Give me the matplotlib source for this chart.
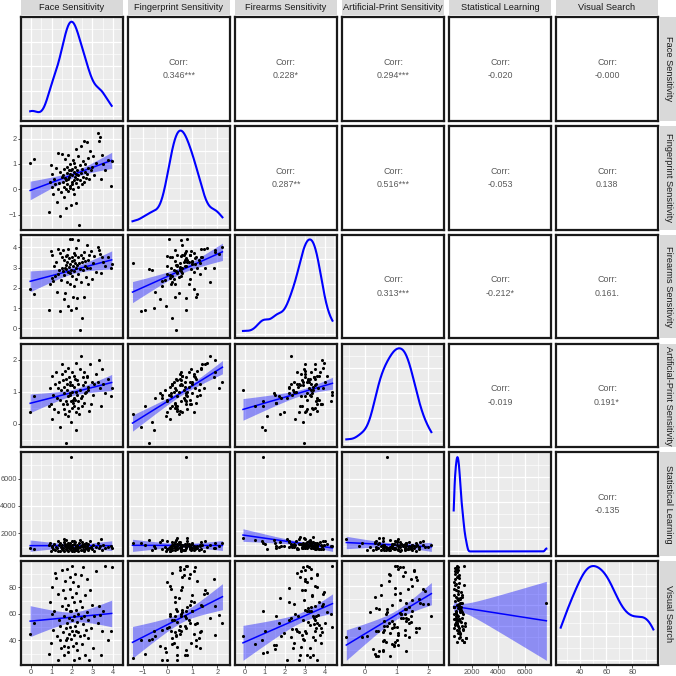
import numpy as np
import matplotlib.pyplot as plt

plt.rcParams["font.family"] = ["Liberation Sans", "DejaVu Sans"]

# variable names (strip labels)
names = ["Face Sensitivity", "Fingerprint Sensitivity", "Firearms Sensitivity",
         "Artificial-Print Sensitivity", "Statistical Learning", "Visual Search"]

# participant scores, estimated from the scatter panels
face = [-0.05, 0.15, 0.85, 0.9, 0.95, 1.0, 1.0, 1.05, 1.1, 1.15,
        1.2, 1.25, 1.3, 1.3, 1.35, 1.4, 1.4, 1.45, 1.5, 1.5,
        1.55, 1.55, 1.6, 1.6, 1.62, 1.65, 1.68, 1.7, 1.7, 1.72,
        1.75, 1.75, 1.78, 1.8, 1.8, 1.82, 1.85, 1.85, 1.88, 1.9,
        1.9, 1.92, 1.95, 1.95, 1.98, 2.0, 2.0, 2.02, 2.05, 2.05,
        2.08, 2.1, 2.1, 2.12, 2.15, 2.15, 2.18, 2.2, 2.2, 2.22,
        2.25, 2.25, 2.28, 2.3, 2.32, 2.35, 2.38, 2.4, 2.42, 2.45,
        2.48, 2.5, 2.52, 2.55, 2.58, 2.6, 2.62, 2.65, 2.7, 2.72,
        2.75, 2.78, 2.8, 2.85, 2.9, 2.95, 3.0, 3.05, 3.1, 3.2,
        3.3, 3.35, 3.4, 3.42, 3.45, 3.5, 3.6, 3.75, 3.9, 3.95]

fingerprint = [1.05, 1.2, -0.9, 0.3, 0.95, 0.1, 0.6, -0.2, 0.4, 0.2,
               0.85, -0.5, 1.45, 0.0, 0.25, -1.05, 0.7, -0.1, 0.5, 1.4,
               0.3, 0.55, -0.3, 0.8, 0.1, 1.2, 0.45, 0.0, -0.75, 0.35,
               0.65, 0.9, 0.2, 1.35, 0.4, -0.05, 0.75, 0.5, 0.15, 0.6,
               0.05, 1.0, 0.75, -0.6, 0.3, 0.8, 0.55, 0.2, 1.15, 0.0,
               0.7, 0.35, -0.2, 1.05, 0.5, 0.9, 0.25, 0.6, -0.55, 1.6,
               0.4, 0.75, 0.1, 1.3, 0.55, -1.4, 0.95, 0.35, 0.65, 1.7,
               0.8, 0.2, 1.1, 0.5, 1.9, 0.3, 0.7, 1.0, 0.45, 1.85,
               0.6, 1.25, 0.85, 0.4, 1.5, 0.75, 0.9, 1.3, 0.55, 1.05,
               2.2, 1.9, 2.05, 0.4, 1.35, 1.0, 0.75, 1.15, 0.15, 1.1]

firearms = [1.95, 1.7, 0.9, 2.2, 3.8, 2.5, 3.6, 2.35, 3.1, 2.6,
            3.3, 1.8, 3.9, 2.7, 2.9, 0.85, 3.7, 2.4, 3.0, 3.5,
            3.85, 2.85, 1.45, 3.4, 2.65, 3.0, 1.75, 3.55, 2.95, 3.15,
            3.3, 3.6, 2.3, 3.9, 2.8, 1.1, 3.45, 3.05, 2.2, 2.75,
            4.4, 3.2, 0.9, 2.9, 3.35, 4.4, 2.6, 3.5, 1.55, 3.1,
            3.4, 2.85, 2.1, 3.7, 3.25, 3.6, 2.45, 3.0, 1.0, 3.95,
            3.15, 1.5, 3.5, 2.7, 4.35, 3.25, 2.95, -0.1, 3.6, 2.3,
            3.3, 0.5, 3.45, 2.9, 3.75, 1.55, 3.1, 3.35, 2.55, 3.0,
            4.1, 3.4, 2.2, 3.6, 3.0, 3.8, 2.45, 3.25, 3.55, 2.8,
            4.0, 3.85, 3.65, 2.75, 3.5, 3.3, 3.1, 3.5, 3.0, 3.2]

artificial = [0.35, 0.85, 0.55, 1.1, 0.6, 0.15, 1.5, 0.9, 0.45, 1.25,
              1.6, 0.8, 1.1, 0.35, 1.3, -0.1, 0.75, 1.05, 1.55, 1.85,
              0.6, 1.35, 0.95, 0.45, 1.15, 1.65, 0.3, 0.7, -0.6, 1.4,
              1.05, 0.6, 1.25, 1.75, 0.85, 0.25, 1.45, 0.4, 0.95, 1.2,
              0.9, 1.3, 0.7, 0.05, 0.5, 1.0, 1.6, 1.2, 0.65, 0.75,
              1.15, 0.55, 0.8, 1.5, 1.4, 0.75, 1.0, 0.35, -0.2, 1.9,
              1.35, 0.9, 0.5, 1.25, 0.7, 0.3, 1.7, 1.05, 0.8, 2.1,
              0.85, 0.55, 1.45, 1.2, 1.6, 0.65, 1.3, 0.95, 1.0, 1.45,
              1.5, 1.05, 1.15, 0.4, 1.85, 0.6, 1.3, 0.9, 1.25, 1.55,
              1.3, 2.0, 1.1, 0.55, 1.7, 1.25, 0.95, 1.4, 0.85, 1.1]

stat_learning = [900, 850, 1100, 1300, 700, 950, 1050, 800, 1200, 750,
                 1000, 900, 650, 1400, 1150, 1250, 700, 980, 850, 1100,
                 920, 780, 1350, 1600, 680, 1050, 1200, 830, 1500, 960,
                 740, 1100, 880, 1300, 1020, 690, 950, 1150, 800, 1080,
                 870, 1250, 7600, 720, 990, 1400, 660, 1100, 930, 780,
                 1180, 840, 1450, 700, 1320, 890, 1060, 760, 1030, 950,
                 820, 1120, 690, 1010, 870, 1280, 940, 1500, 730, 1070,
                 1160, 1350, 790, 980, 1220, 710, 1040, 860, 1300, 920,
                 1080, 750, 1190, 880, 1400, 960, 820, 1130, 700, 1010,
                 1250, 900, 1050, 1600, 780, 1150, 870, 980, 1050, 930]

visual_search = [45, 53, 30, 69, 38, 60, 80, 48, 62, 91,
                 87, 43, 75, 25, 55, 40, 51, 34, 93, 66,
                 46, 78, 36, 29, 58, 85, 72, 49, 40, 64,
                 94, 53, 42, 67, 35, 31, 57, 45, 79, 88,
                 50, 62, 62, 41, 73, 96, 47, 55, 36, 84,
                 58, 44, 25, 69, 51, 90, 38, 63, 47, 76,
                 54, 33, 81, 46, 60, 27, 70, 43, 89, 57,
                 65, 37, 52, 95, 44, 58, 29, 74, 48, 86,
                 61, 42, 55, 25, 78, 49, 67, 34, 58, 92,
                 53, 66, 59, 29, 47, 62, 96, 40, 47, 95]

# printed correlations for the upper triangle, row by row
corr_labels = ["0.346***", "0.228*", "0.294***", "-0.020", "-0.000",
               "0.287**", "0.516***", "-0.053", "0.138",
               "0.313***", "-0.212*", "0.161.",
               "-0.019", "0.191*",
               "-0.135"]

ticks = [[0, 1, 2, 3, 4], [-1, 0, 1, 2], [0, 1, 2, 3, 4], [0, 1, 2],
         [2000, 4000, 6000], [40, 60, 80]]

data = [np.array(v, dtype=float) for v in
        [face, fingerprint, firearms, artificial, stat_learning, visual_search]]
n = len(names)

BG = "#EBEBEB"
STRIP = "#D9D9D9"


def kde(x):
    # gaussian density with R's bw.nrd0
    sd = x.std(ddof=1)
    iqr = np.subtract(*np.percentile(x, [75, 25]))
    bw = 0.9 * min(sd, iqr / 1.34) * len(x) ** -0.2
    g = np.linspace(x.min(), x.max(), 512)
    d = np.exp(-0.5 * ((g[:, None] - x[None, :]) / bw) ** 2).sum(1)
    d /= len(x) * bw * np.sqrt(2 * np.pi)
    return g, d


def lm_band(x, y):
    b, a = np.polyfit(x, y, 1)
    g = np.linspace(x.min(), x.max(), 80)
    fit = a + b * g
    res = y - (a + b * x)
    s = np.sqrt((res ** 2).sum() / (len(x) - 2))
    se = s * np.sqrt(1 / len(x) + (g - x.mean()) ** 2 / ((x - x.mean()) ** 2).sum())
    return g, fit, fit - 1.984 * se, fit + 1.984 * se


fig = plt.figure(figsize=(6.76, 6.76), dpi=100)
gs = fig.add_gridspec(n, n, left=21 / 676, right=658 / 676, top=1 - 17 / 676,
                      bottom=1 - 665 / 676, wspace=0.05, hspace=0.05)

k = 0
for i in range(n):
    for j in range(n):
        ax = fig.add_subplot(gs[i, j])
        if j > i:
            # correlation text panel
            ax.set_facecolor("white")
            ax.text(0.5, 0.5, "Corr:\n" + corr_labels[k], ha="center", va="center",
                    fontsize=6.4, color="#595959", linespacing=1.6,
                    transform=ax.transAxes)
            k += 1
            ax.set_xticks([])
            ax.set_yticks([])
        else:
            ax.set_facecolor(BG)
            x = data[j]
            if i == j:
                g, d = kde(x)
                ax.plot(g, d, color="blue", lw=1.5)
                ax.set_ylim(-0.05 * d.max(), d.max() * 1.05)
                ax.margins(x=0.05)
            else:
                y = data[i]
                g, fit, lo, hi = lm_band(x, y)
                ax.fill_between(g, lo, hi, color="blue", alpha=0.4, lw=0)
                ax.plot(g, fit, color="blue", lw=1.1)
                ax.scatter(x, y, s=5, color="black", lw=0, zorder=3)
                ax.margins(0.05)
            ax.set_xticks(ticks[j])
            if i != j:
                ax.set_yticks(ticks[i])
            # minor grid midway between majors
            xt = ticks[j]
            step = xt[1] - xt[0]
            ax.set_xticks(np.arange(xt[0] - step / 2, xt[-1] + step, step), minor=True)
            if i != j:
                yt = ticks[i]
                ys = yt[1] - yt[0]
                ax.set_yticks(np.arange(yt[0] - ys / 2, yt[-1] + ys, ys), minor=True)
            else:
                top = ax.get_ylim()[1]
                ax.set_yticks(np.linspace(0, top, 5))
                ax.set_yticks(np.linspace(top / 8, top * 7 / 8, 4), minor=True)
            ax.grid(True, which="major", color="white", lw=0.9)
            ax.grid(True, which="minor", color="white", lw=0.45)
            ax.set_axisbelow(True)
            ax.tick_params(which="minor", length=0)
            ax.tick_params(which="major", length=2, width=0.6, color="#333333",
                           labelsize=5.3, labelcolor="#4D4D4D", pad=1)
            if i != n - 1:
                ax.tick_params(axis="x", which="major", length=0, labelbottom=False)
            if j != 0 or i == j:
                ax.tick_params(axis="y", which="major", length=0, labelleft=False)
        for sp in ax.spines.values():
            sp.set_linewidth(1.6)
            sp.set_color("#1A1A1A")

        pos = ax.get_position()
        if i == 0:
            sax = fig.add_axes([pos.x0, 1 - 15 / 676, pos.width, 15 / 676])
            sax.set_facecolor(STRIP)
            sax.set_xticks([])
            sax.set_yticks([])
            for sp in sax.spines.values():
                sp.set_visible(False)
            sax.text(0.5, 0.5, names[j], ha="center", va="center", fontsize=6.7,
                     color="#1A1A1A")
        if j == n - 1:
            sax = fig.add_axes([660 / 676, pos.y0, 16 / 676, pos.height])
            sax.set_facecolor(STRIP)
            sax.set_xticks([])
            sax.set_yticks([])
            for sp in sax.spines.values():
                sp.set_visible(False)
            sax.text(0.5, 0.5, names[i], ha="center", va="center", fontsize=6.7,
                     color="#1A1A1A", rotation=-90)

fig.savefig("out.png", dpi=100)
